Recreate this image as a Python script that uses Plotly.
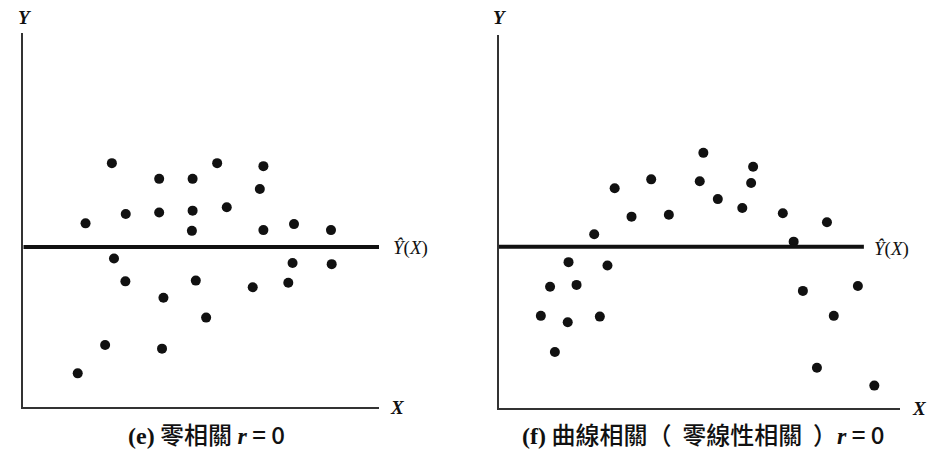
import plotly.graph_objects as go

# Panel (e): zero correlation
e_x = [2.49, 3.82, 4.76, 5.45, 6.75, 6.65, 1.75, 2.88, 3.82, 4.76, 5.72, 4.74, 6.75, 7.61,
       8.65, 2.55, 7.57, 8.67, 2.87, 4.85, 6.45, 7.45, 3.94, 5.14, 2.30, 3.90, 1.53]
e_y = [6.52, 6.10, 6.10, 6.52, 6.44, 5.83, 4.91, 5.16, 5.20, 5.25, 5.34, 4.71, 4.73, 4.89,
       4.73, 3.97, 3.85, 3.82, 3.36, 3.38, 3.20, 3.32, 2.92, 2.39, 1.66, 1.56, 0.90]
e_fit = 4.28
e_fit_x = [0, 10.03]

# Panel (f): curvilinear relation, zero linear correlation
f_x = [5.10, 3.80, 2.89, 5.01, 6.34, 6.29, 5.46, 6.07, 7.08, 8.18, 3.31, 4.24, 2.38, 7.35,
       1.74, 2.71, 1.28, 1.94, 7.58, 8.95, 1.05, 1.72, 2.52, 8.35, 1.40, 7.93, 9.36]
f_y = [6.84, 6.13, 5.89, 6.08, 6.47, 6.03, 5.60, 5.36, 5.22, 4.98, 5.13, 5.18, 4.66, 4.46,
       3.91, 3.82, 3.25, 3.30, 3.14, 3.27, 2.47, 2.30, 2.45, 2.47, 1.50, 1.08, 0.60]
f_fit = 4.32
f_fit_x = [0, 9.10]

SERIF = "Liberation Serif"
CJK = "Noto Sans CJK TC"


def serif(s, bold=False):
    w = ";font-weight:bold" if bold else ""
    return f'<span style="font-family:{SERIF}{w}">{s}</span>'


captions = [
    serif("(e)", True) + " 零相關 " + serif("<i>r</i>", True) + " = 0",
    serif("(f)", True) + " 曲線相關（  零線性相關  ）" + serif("<i>r</i>", True) + " = 0",
]
fit_label = "<i>Ŷ</i>(<i>X</i>)"

W, H = 937, 452


def px(x):
    return x / W


def py(y):
    return 1 - y / H


fig = go.Figure()

dot = dict(color="#111111", size=10, line=dict(width=0))
fig.add_trace(go.Scatter(x=e_x, y=e_y, mode="markers", marker=dot, xaxis="x", yaxis="y"))
fig.add_trace(go.Scatter(x=e_fit_x, y=[e_fit, e_fit], mode="lines",
                         line=dict(color="#111111", width=4), xaxis="x", yaxis="y"))
fig.add_trace(go.Scatter(x=f_x, y=f_y, mode="markers", marker=dot, xaxis="x2", yaxis="y2"))
fig.add_trace(go.Scatter(x=f_fit_x, y=[f_fit, f_fit], mode="lines",
                         line=dict(color="#111111", width=4), xaxis="x2", yaxis="y2"))

axis_common = dict(showline=True, linecolor="#333333", linewidth=1.5, showgrid=False,
                   zeroline=False, showticklabels=False, ticks="", range=[0, 10],
                   fixedrange=True)

fig.update_layout(
    width=W, height=H,
    margin=dict(l=0, r=0, t=0, b=0),
    paper_bgcolor="white", plot_bgcolor="white",
    showlegend=False,
    xaxis=dict(axis_common, domain=[px(23.3), px(379)], anchor="y"),
    yaxis=dict(axis_common, domain=[py(407), py(33)], anchor="x"),
    xaxis2=dict(axis_common, domain=[px(498.7), px(900)], anchor="y2"),
    yaxis2=dict(axis_common, domain=[py(408), py(35)], anchor="x2"),
)

axis_font = dict(size=19, family=SERIF, color="#111111", weight="bold")
fit_font = dict(size=19, family=SERIF, color="#111111")
cap_font = dict(size=24, family=CJK, color="#111111", weight=500)
annotations = [
    # axis names
    dict(x=px(25), y=py(18), text="<i>Y</i>", font=dict(axis_font)),
    dict(x=px(397), y=py(407), text="<i>X</i>", font=dict(axis_font)),
    dict(x=px(500), y=py(18), text="<i>Y</i>", font=dict(axis_font)),
    dict(x=px(919), y=py(408), text="<i>X</i>", font=dict(axis_font)),
    # fitted-line labels
    dict(x=px(391), y=py(248), text=fit_label, xanchor="left", font=dict(fit_font)),
    dict(x=px(872), y=py(249), text=fit_label, xanchor="left", font=dict(fit_font)),
    # captions
    dict(x=px(206), y=py(433), text=captions[0], font=dict(cap_font)),
    dict(x=px(703), y=py(433), text=captions[1], font=dict(cap_font)),
]
for a in annotations:
    a.setdefault("xanchor", "center")
    a.update(xref="paper", yref="paper", yanchor="middle", showarrow=False)
fig.update_layout(annotations=annotations)

fig.write_html("out.html")
